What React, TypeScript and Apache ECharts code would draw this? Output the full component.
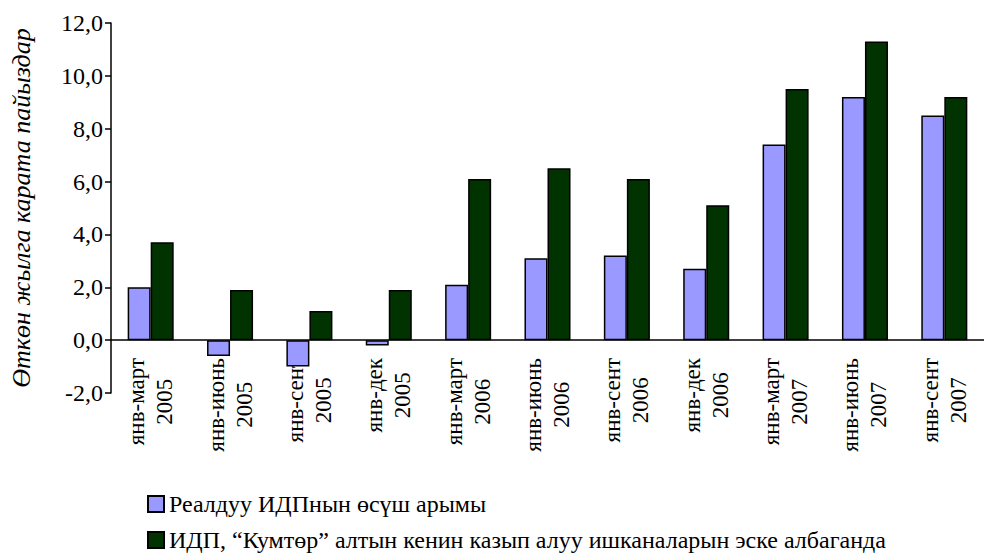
import React, { useEffect, useRef } from "react";
import * as echarts from "echarts";

const categories = [
  "янв-март\n2005", "янв-июнь\n2005", "янв-сент\n2005", "янв-дек\n2005",
  "янв-март\n2006", "янв-июнь\n2006", "янв-сент\n2006", "янв-дек\n2006",
  "янв-март\n2007", "янв-июнь\n2007", "янв-сент\n2007",
];
const realGrowth = [2.0, -0.6, -1.0, -0.2, 2.1, 3.1, 3.2, 2.7, 7.4, 9.2, 8.5];
const excludingKumtor = [3.7, 1.9, 1.1, 1.9, 6.1, 6.5, 6.1, 5.1, 9.5, 11.3, 9.2];
const seriesNames = [
  "Реалдуу ИДПнын өсүш арымы",
  "ИДП, “Кумтөр” алтын кенин казып алуу ишканаларын эске албаганда",
];
const yAxisName = "Өткөн жылга карата пайыздар";

const FONT = "Times New Roman";

export default function App() {
  const ref = useRef<HTMLDivElement>(null);
  useEffect(() => {
    if (!ref.current) return;
    const chart = echarts.init(ref.current, null, { renderer: "svg" });
    const legendCommon = {
      orient: "horizontal",
      left: 142,
      itemWidth: 16,
      itemHeight: 16,
      itemGap: 6,
      icon: "rect",
      textStyle: { fontFamily: FONT, fontSize: 24, color: "#000" },
    };
    chart.setOption({
      animation: false,
      backgroundColor: "#ffffff",
      textStyle: { fontFamily: FONT },
      grid: { left: 108, top: 23, width: 886, height: 370, containLabel: false },
      legend: [
        { ...legendCommon, top: 487, data: [seriesNames[0]] },
        { ...legendCommon, top: 523, data: [seriesNames[1]] },
      ],
      xAxis: {
        type: "category",
        data: categories,
        axisLine: { onZero: true, lineStyle: { color: "#000", width: 1.5 } },
        axisTick: { show: false },
        axisLabel: {
          rotate: 90,
          interval: 0,
          align: "right",
          verticalAlign: "middle",
          margin: -35,
          color: "#000",
          formatter: (v: string) =>
            v.split("\n").map((s) => `{c|${s}}`).join("\n"),
          rich: {
            c: {
              align: "center",
              fontFamily: FONT,
              fontSize: 23,
              lineHeight: 28,
              color: "#000",
            },
          },
        },
      },
      yAxis: {
        type: "value",
        min: -2,
        max: 12,
        interval: 2,
        name: yAxisName,
        nameLocation: "middle",
        nameGap: 77,
        nameRotate: 90,
        nameTextStyle: { fontFamily: FONT, fontSize: 26, fontStyle: "italic", color: "#000" },
        axisLine: { show: true, lineStyle: { color: "#000", width: 1.5 } },
        axisTick: { show: true, inside: false, length: 6, lineStyle: { color: "#000", width: 1.5 } },
        splitLine: { show: false },
        axisLabel: {
          fontFamily: FONT,
          fontSize: 24,
          color: "#000",
          margin: 8,
          formatter: (v: number) => v.toFixed(1).replace(".", ","),
        },
      },
      series: [
        {
          name: seriesNames[0],
          type: "bar",
          data: realGrowth,
          barGap: "0%",
          barCategoryGap: "42%",
          itemStyle: { color: "#9999FF", borderColor: "#000", borderWidth: 1.5 },
        },
        {
          name: seriesNames[1],
          type: "bar",
          data: excludingKumtor,
          barGap: "0%",
          barCategoryGap: "42%",
          itemStyle: { color: "#003300", borderColor: "#000", borderWidth: 1.5 },
        },
      ],
    });
    return () => chart.dispose();
  }, []);
  return (
    <div
      ref={ref}
      style={{ position: "fixed", left: 0, top: 0, width: 984, height: 553, background: "#fff" }}
    />
  );
}
